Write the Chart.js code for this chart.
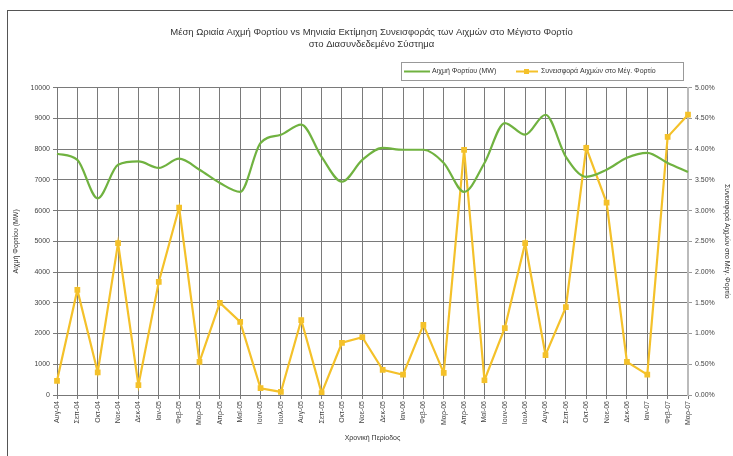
<!DOCTYPE html>
<html>
<head>
<meta charset="utf-8">
<script src="https://cdn.jsdelivr.net/npm/chart.js@4/dist/chart.umd.min.js"></script>
<style>
  html, body { margin: 0; padding: 0; background: #fff; overflow: hidden; }
  #wrap { position: relative; width: 733px; height: 456px; }
</style>
</head>
<body>
<div id="wrap"><canvas id="chart" width="733" height="456"></canvas></div>
<script>
// months shown on the x axis
const months = ['Αυγ-04','Σεπ-04','Οκτ-04','Νοε-04','Δεκ-04','Ιαν-05','Φεβ-05','Μαρ-05','Απρ-05','Μαϊ-05',
  'Ιουν-05','Ιουλ-05','Αυγ-05','Σεπ-05','Οκτ-05','Νοε-05','Δεκ-05','Ιαν-06','Φεβ-06','Μαρ-06',
  'Απρ-06','Μαϊ-06','Ιουν-06','Ιουλ-06','Αυγ-06','Σεπ-06','Οκτ-06','Νοε-06','Δεκ-06','Ιαν-07',
  'Φεβ-07','Μαρ-07']

// peak load, MW (left axis)
const peakLoad = [7850, 7650, 6400, 7490, 7600, 7390, 7690, 7330, 6900, 6610,
  8200, 8470, 8800, 7750, 6940, 7650, 8040, 7980, 7980, 7550,
  6610, 7550, 8850, 8470, 9120, 7750, 7100, 7330, 7720, 7880,
  7550, 7260]

// contribution of peaks to max load, % (right axis)
const contribution = [0.23, 1.71, 0.37, 2.47, 0.16, 1.84, 3.05, 0.54, 1.50, 1.19,
  0.11, 0.05, 1.22, 0.03, 0.85, 0.94, 0.41, 0.33, 1.14, 0.36,
  3.99, 0.24, 1.09, 2.47, 0.65, 1.43, 4.02, 3.13, 0.54, 0.33,
  4.20, 4.56]

const titleLines = ['Μέση Ωριαία Αιχμή Φορτίου vs Μηνιαία Εκτίμηση Συνεισφοράς των Αιχμών στο Μέγιστο Φορτίο',
  'στο Διασυνδεδεμένο Σύστημα']
const leftTitle = 'Αιχμή Φορτίου (MW)'
const rightTitle = 'Συνεισφορά Αιχμών στο Μέγ. Φορτίο'
const xTitle = 'Χρονική Περίοδος'

const green = '#70b240'
const gold = '#f4c12a'
const font = 'Liberation Sans, Arial, sans-serif'

// excel-ish frame + legend box drawn by hand
const framePlugin = {
  id: 'frame',
  afterDraw(chart) {
    const ctx = chart.ctx
    ctx.save()
    ctx.strokeStyle = '#555'
    ctx.lineWidth = 1
    ctx.strokeRect(7.5, 10.5, 760, 480)

    // legend
    const bx = 401, by = 62, bw = 282, bh = 18
    ctx.strokeStyle = '#999'
    ctx.strokeRect(bx + 0.5, by + 0.5, bw, bh)
    ctx.font = '7px ' + font
    ctx.fillStyle = '#333'
    ctx.textBaseline = 'middle'
    const cy = by + bh / 2 + 0.5
    ctx.strokeStyle = green
    ctx.lineWidth = 2
    ctx.beginPath(); ctx.moveTo(404, cy); ctx.lineTo(430, cy); ctx.stroke()
    ctx.fillText(chart.data.datasets[0].label, 432, cy)
    ctx.strokeStyle = gold
    ctx.beginPath(); ctx.moveTo(516, cy); ctx.lineTo(538, cy); ctx.stroke()
    ctx.fillStyle = gold
    ctx.fillRect(524, cy - 2.5, 5, 5)
    ctx.fillStyle = '#333'
    ctx.fillText(chart.data.datasets[1].label, 541, cy)
    ctx.restore()
  }
}

new Chart(document.getElementById('chart'), {
  type: 'line',
  data: {
    labels: months,
    datasets: [{
      label: leftTitle,
      data: peakLoad,
      yAxisID: 'y',
      borderColor: green,
      borderWidth: 2.2,
      pointRadius: 0,
      tension: 0.4,
      cubicInterpolationMode: 'monotone',
      order: 1
    }, {
      label: rightTitle,
      data: contribution,
      yAxisID: 'y1',
      borderColor: gold,
      backgroundColor: gold,
      borderWidth: 2.2,
      pointStyle: 'rect',
      pointRadius: 2.5,
      tension: 0,
      order: 2
    }]
  },
  options: {
    responsive: false,
    animation: false,
    layout: { padding: { left: 10, top: 10, right: 0, bottom: 0 } },
    plugins: {
      legend: { display: false },
      tooltip: { enabled: false },
      title: {
        display: true,
        text: titleLines,
        color: '#333',
        font: { family: font, size: 9.5, weight: 'normal', lineHeight: 1.3 },
        padding: { top: 16, bottom: 37 }
      }
    },
    scales: {
      x: {
        offset: false,
        grid: { color: '#7a7a7a', lineWidth: 1, tickLength: 4 },
        border: { color: '#777' },
        ticks: {
          autoSkip: false, maxRotation: 90, minRotation: 90,
          color: '#444', font: { family: font, size: 7 }, padding: 2
        },
        title: {
          display: true, text: xTitle, color: '#333',
          font: { family: font, size: 7 }, padding: { top: 2, bottom: 14 }
        },
        afterFit(s) { s.height = 61 }
      },
      y: {
        position: 'left',
        min: 0, max: 10000,
        grid: { color: '#7a7a7a', lineWidth: 1, tickLength: 4 },
        border: { color: '#777' },
        ticks: {
          stepSize: 1000, color: '#444', font: { family: font, size: 7 }, padding: 3,
          callback: v => String(v)
        },
        title: {
          display: true, text: leftTitle, color: '#333',
          font: { family: font, size: 7 }, padding: 2
        },
        afterFit(s) { s.width = 47 }
      },
      y1: {
        position: 'right',
        min: 0, max: 5,
        grid: { drawOnChartArea: false, color: '#999', tickLength: 4 },
        border: { color: '#bbb', width: 2 },
        ticks: {
          stepSize: 0.5, color: '#444', font: { family: font, size: 7 }, padding: 3,
          callback: v => v.toFixed(2) + '%'
        },
        title: {
          display: true, text: rightTitle, color: '#333',
          font: { family: font, size: 7 }, padding: 2
        },
        afterFit(s) { s.width = 45 }
      }
    }
  },
  plugins: [framePlugin]
})
</script>
</body>
</html>
